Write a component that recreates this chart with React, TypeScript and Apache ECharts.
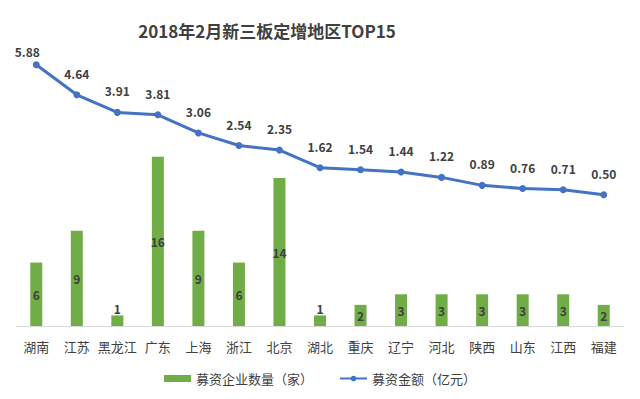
import React, { useEffect, useRef } from "react";
import * as echarts from "echarts";

const categories = ["湖南", "江苏", "黑龙江", "广东", "上海", "浙江", "北京", "湖北", "重庆", "辽宁", "河北", "陕西", "山东", "江西", "福建"];
const companyCounts = [6, 9, 1, 16, 9, 6, 14, 1, 2, 3, 3, 3, 3, 3, 2];
const fundAmounts = [5.88, 4.64, 3.91, 3.81, 3.06, 2.54, 2.35, 1.62, 1.54, 1.44, 1.22, 0.89, 0.76, 0.71, 0.5];
const barName = "募资企业数量（家）";
const lineName = "募资金额（亿元）";
const titleText = "2018年2月新三板定增地区TOP15";

const FONT = "'Noto Sans CJK SC', 'Microsoft YaHei', sans-serif";

export default function App() {
  const ref = useRef<HTMLDivElement>(null);
  useEffect(() => {
    document.body.style.margin = "0";
    const chart = echarts.init(ref.current!, null, { renderer: "svg" });
    chart.setOption({
      animation: false,
      backgroundColor: "#ffffff",
      textStyle: { fontFamily: FONT },
      title: {
        text: titleText,
        left: 262,
        top: 17,
        textAlign: "center",
        textStyle: { fontSize: 17, fontWeight: "bold", color: "#404040", fontFamily: FONT },
      },
      legend: {
        bottom: 9,
        left: "center",
        itemGap: 26,
        itemWidth: 27,
        itemHeight: 7,
        textStyle: { fontSize: 13, color: "#404040", fontFamily: FONT },
        data: [
          { name: barName, icon: "rect" },
          { name: lineName },
        ],
      },
      grid: { left: 16, right: 16, top: 30, bottom: 73 },
      xAxis: {
        type: "category",
        data: categories,
        axisTick: { show: false },
        axisLine: { lineStyle: { color: "#d9d9d9", width: 1 } },
        axisLabel: { fontSize: 13, color: "#404040", margin: 14, fontFamily: FONT, interval: 0 },
      },
      yAxis: [
        { type: "value", min: 0, max: 28, show: false, splitLine: { show: false } },
        { type: "value", min: -4.93, max: 7.32, show: false, splitLine: { show: false } },
      ],
      series: [
        {
          name: barName,
          type: "bar",
          yAxisIndex: 0,
          barWidth: 12,
          itemStyle: { color: "#70ad47" },
          label: {
            show: true,
            position: "inside",
            fontSize: 12,
            fontWeight: "bold",
            color: "#404040",
            fontFamily: FONT,
          },
          data: companyCounts.map((v) =>
            v <= 1 ? { value: v, label: { position: "top", distance: 1 } } : v
          ),
        },
        {
          name: lineName,
          type: "line",
          yAxisIndex: 1,
          symbol: "circle",
          symbolSize: 7,
          lineStyle: { color: "#4472c4", width: 3 },
          itemStyle: { color: "#4472c4" },
          label: {
            show: true,
            position: "top",
            distance: 12,
            fontSize: 12,
            fontWeight: "bold",
            color: "#404040",
            fontFamily: FONT,
            formatter: (p: any) => Number(p.value).toFixed(2),
          },
          data: fundAmounts.map((v, i) =>
            i === 0 ? { value: v, label: { offset: [-9, 8] } } : v
          ),
        },
      ],
    });
    return () => chart.dispose();
  }, []);
  return <div ref={ref} style={{ width: 640, height: 399 }} />;
}
